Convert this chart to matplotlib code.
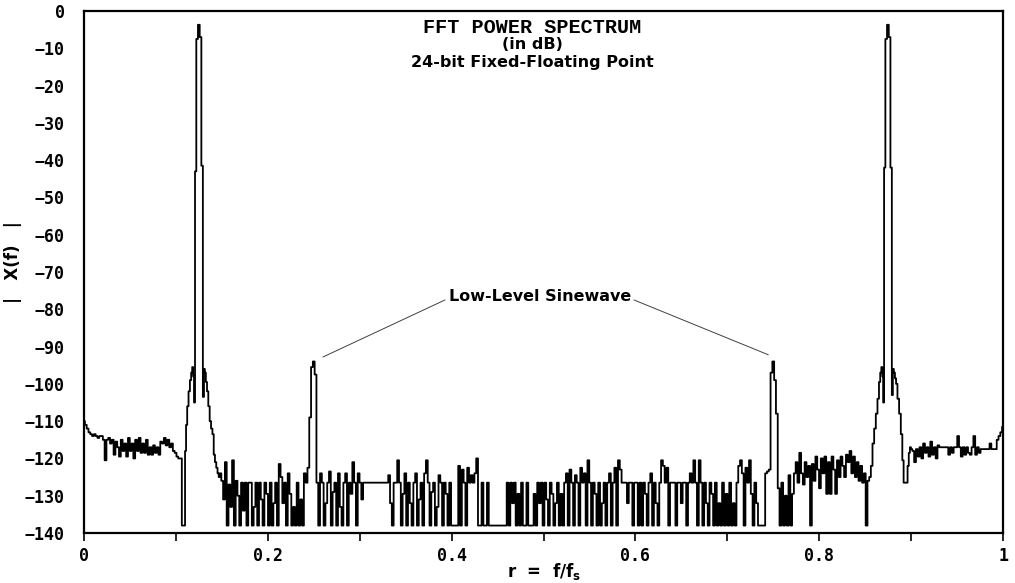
import numpy as np
import matplotlib
matplotlib.use('Agg')
from matplotlib import pyplot as plt
import matplotlib as mpl

mpl.rcParams['mathtext.fontset'] = 'custom'
mpl.rcParams['mathtext.bf'] = 'DejaVu Sans:bold'
mpl.rcParams['mathtext.rm'] = 'DejaVu Sans:bold'

NBINS = 512

# left shelf, bins 0..55 (step 1/512)
shelf_left_db = [-110, -111, -112, -113, -113.5, -114, -113.5, -114, -114.5, -114,
                 -114, -115, -120.5, -115, -114.5, -116, -115, -119, -115.5, -117,
                 -119.5, -115, -118, -116, -119.5, -114.5, -118, -116, -120, -115,
                 -118, -114.5, -118.5, -116, -118.5, -115, -119, -117, -119, -116.5,
                 -118.5, -117, -119, -115.5, -116, -114.5, -116.5, -115, -117, -116,
                 -118, -118.5, -119.5, -120, -120, -138]

# main lobe around r = 0.125
lobe_left_f = [0.1094, 0.1105, 0.1116, 0.1130, 0.1145, 0.1160, 0.1172, 0.1183, 0.1192,
               0.1202, 0.1214, 0.1230, 0.1250, 0.1268, 0.1286, 0.1301, 0.1310, 0.1320,
               0.1332, 0.1345, 0.1360, 0.1375, 0.1390, 0.1405, 0.1418, 0.1432, 0.1446,
               0.1460, 0.1472]
lobe_left_db = [-138, -118, -111, -106, -102, -99, -97, -95.5, -98,
                -105, -43, -7.5, -3.7, -7, -41.5, -103.5, -96, -97,
                -99.5, -102, -106, -110, -112, -113.5, -119, -121, -122.5,
                -124, -125]

# noise floor, bins 76..436
floor_start = 76
floor_db = [-124, -126, -131, -121, -138, -127, -133, -120.5, -138, -126,
            -130, -138, -126.5, -134, -126.5, -138, -126.5, -126.5, -138, -133,
            -126.5, -138, -126.5, -131, -138, -126.5, -129.5, -138, -126.5, -138,
            -132, -126.5, -138, -121.5, -125, -132, -126.5, -138, -124, -129.5,
            -138, -133, -138, -126.5, -138, -131, -138, -124, -126.5, -122.5,
            -109, -95.5, -94, -97.5, -126.5, -138, -124, -126.5, -138, -132,
            -126.5, -123.5, -138, -129, -126.5, -138, -124, -133, -138, -126.5,
            -124, -138, -126.5, -129.5, -121, -126.5, -138, -124, -126.5, -131,
            -126.5, -126.5, -126.5, -126.5, -126.5, -126.5, -126.5, -126.5, -126.5, -126.5,
            -126.5, -126.5, -126.5, -126.5, -124.5, -132, -138, -126.5, -126.5, -120.5,
            -126.5, -138, -129.5, -124, -138, -126.5, -132, -138, -126.5, -124,
            -138, -131, -126.5, -138, -124, -120.5, -126.5, -138, -129, -126.5,
            -138, -133, -124.5, -126.5, -138, -126.5, -129.5, -138, -126.5, -138,
            -138, -138, -138, -122, -138, -123, -126.5, -138, -122.5, -126.5,
            -124.5, -126.5, -124, -120, -138, -138, -126.5, -138, -138, -126.5,
            -138, -138, -138, -138, -138, -138, -138, -138, -138, -138,
            -126.5, -138, -126.5, -132, -126.5, -138, -129.5, -138, -126.5, -138,
            -138, -126.5, -138, -138, -138, -129.5, -138, -126.5, -132, -126.5,
            -138, -126.5, -131, -138, -126.5, -129.5, -138, -132, -126.5, -138,
            -129.5, -138, -126.5, -124, -138, -123, -126.5, -138, -124.5, -126.5,
            -138, -122.5, -126.5, -124, -138, -120.5, -126.5, -138, -126.5, -129.5,
            -138, -126.5, -138, -132, -126.5, -138, -126.5, -124, -138, -126.5,
            -122.5, -138, -120.5, -123, -126.5, -126.5, -126.5, -132, -126.5, -126.5,
            -138, -126.5, -126.5, -138, -126.5, -138, -126.5, -129.5, -138, -126.5,
            -124, -138, -126.5, -132, -138, -126.5, -120.5, -122, -126.5, -122.5,
            -138, -126.5, -126.5, -126.5, -138, -126.5, -126.5, -132, -126.5, -126.5,
            -138, -126.5, -124, -126.5, -120.5, -126.5, -138, -120.5, -126.5, -138,
            -126.5, -132, -138, -126.5, -129.5, -138, -126.5, -138, -132, -138,
            -126.5, -138, -129.5, -138, -126.5, -138, -132, -138, -126.5, -122,
            -120.5, -124, -138, -122.5, -126.5, -120.5, -129.5, -138, -126.5, -132,
            -138, -138, -138, -138, -124, -123.5, -123, -97, -94, -99,
            -108, -128, -138, -126.5, -138, -130, -138, -124.5, -138, -129.5,
            -124, -121, -126.5, -118.5, -124, -127, -121, -125, -122, -138,
            -121.5, -126, -119.5, -123, -128, -120, -124, -119.5, -129.5, -121,
            -129.5, -119.5, -123, -129.5, -120.5, -125, -119.5, -122, -125, -119,
            -121, -118, -124, -119.5, -125, -121, -126, -122, -126.5, -124, -138]

# main lobe around r = 0.875
lobe_right_f = [0.8535, 0.8553, 0.8571, 0.8589, 0.8607, 0.8625, 0.8643, 0.8658, 0.8670,
                0.8682, 0.8692, 0.8700, 0.8712, 0.8728, 0.8748, 0.8766, 0.8784, 0.8797,
                0.8806, 0.8818, 0.8830, 0.8843, 0.8860, 0.8879, 0.8897, 0.8912, 0.8925,
                0.8940, 0.8955, 0.8968, 0.8981, 0.8993]
lobe_right_db = [-126, -125, -122, -116, -112, -108, -104, -99.5, -97,
                 -95.5, -98, -105, -42, -7.5, -3.7, -7, -42, -103,
                 -96, -97, -98.5, -100, -104, -108, -113.5, -120.5, -126.5,
                 -126.5, -126.5, -122, -118.5, -117]

# right shelf, bins 461..512
shelf_right_start = 461
shelf_right_db = [-117.5, -118, -121, -117.5, -119.5, -117, -120, -116, -118.5, -117,
                  -119.5, -115.5, -119, -117, -120, -116.5, -117, -117, -117, -117,
                  -117, -119, -117, -118.5, -117, -117, -114, -117, -119.5, -117,
                  -119, -117, -118.5, -119, -117, -114, -119, -117, -118.5, -117.5,
                  -117.5, -117.5, -117.5, -117.5, -116, -117.5, -117.5, -117.5, -115, -114,
                  -113, -111.5]

sine_freqs = [0.25, 0.75]
sine_db = -94

f = np.concatenate([np.arange(len(shelf_left_db)) / NBINS,
                    lobe_left_f,
                    (floor_start + np.arange(len(floor_db))) / NBINS,
                    lobe_right_f,
                    (shelf_right_start + np.arange(len(shelf_right_db))) / NBINS])
db = np.concatenate([shelf_left_db, lobe_left_db, floor_db, lobe_right_db, shelf_right_db])

fig = plt.figure(figsize=(10.15, 5.83), dpi=100)
ax = fig.add_axes([84/1015, 1-533/583, 919/1015, 522/583])
ax.plot(f, db, color='black', lw=1.3, drawstyle='steps-mid')

ax.set_xlim(0, 1)
ax.set_ylim(-140, 0)
ax.set_xticks(np.arange(0, 1.01, 0.2))
ax.set_xticks(np.arange(0.1, 1.0, 0.2), minor=True)
ax.set_xticklabels(['0', '0.2', '0.4', '0.6', '0.8', '1'])
ax.set_yticks(np.arange(-140, 1, 10))
for s in ax.spines.values():
    s.set_linewidth(1.6)
for lab in ax.get_xticklabels() + ax.get_yticklabels():
    lab.set_fontfamily('DejaVu Sans Mono')
    lab.set_fontweight('bold')
    lab.set_fontsize(12)
ax.tick_params(axis='x', which='both', direction='out', length=6, width=1.2, pad=4)
ax.tick_params(axis='y', length=0, pad=14)

ax.text(0.4875, -4.4, 'FFT POWER SPECTRUM', ha='center', va='center',
        family='Liberation Mono', weight='bold', fontsize=14.5)
ax.text(0.4875, -9.0, '(in dB)', ha='center', va='center',
        family='DejaVu Sans', weight='bold', fontsize=11.5)
ax.text(0.4875, -13.8, '24-bit Fixed-Floating Point', ha='center', va='center',
        family='DejaVu Sans', weight='bold', fontsize=11.5)

ax.text(0.496, -76.6, 'Low-Level Sinewave', ha='center', va='center',
        family='DejaVu Sans', weight='bold', fontsize=11.5)
ax.annotate('', xy=(sine_freqs[0] + 0.010, sine_db + 1.2), xytext=(0.3928, -77.5),
            arrowprops=dict(arrowstyle='-', lw=0.7, color='0.25', shrinkA=0, shrinkB=0))
ax.annotate('', xy=(sine_freqs[1] - 0.0054, sine_db + 1.8), xytext=(0.5985, -77.5),
            arrowprops=dict(arrowstyle='-', lw=0.7, color='0.25', shrinkA=0, shrinkB=0))

fig.text(544/1015, 1-572/583, r'r  =  f/f$_\mathbf{s}$', ha='center', va='center',
         family='DejaVu Sans', weight='bold', fontsize=12)
fig.text(13/1015, 1-262/583, '|   X(f)   |', ha='center', va='center', rotation=90,
         family='DejaVu Sans', weight='bold', fontsize=12)

fig.savefig('out.png', dpi=100)
